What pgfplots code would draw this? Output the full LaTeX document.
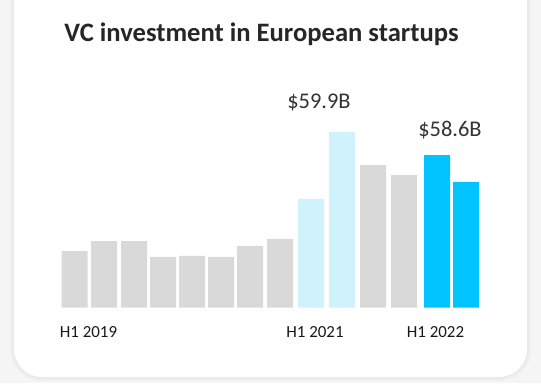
\documentclass[border=0pt]{standalone}
\usepackage{pgfplots}
\pgfplotsset{compat=1.18}
\usepackage{fontspec}
\setmainfont{Carlito}
\definecolor{bggray}{HTML}{F5F5F5}
\definecolor{bargray}{HTML}{D9D9D9}
\definecolor{lightblue}{HTML}{D0F2FC}
\definecolor{brightblue}{HTML}{00C3FF}
\definecolor{titlecol}{HTML}{262626}
\definecolor{labcol}{HTML}{333333}
\begin{document}
\begin{tikzpicture}[x=1bp,y=1bp]
\useasboundingbox (0,0) rectangle (541,383);
\clip (0,0) rectangle (541,383);
% background and card
\fill[bggray] (0,0) rectangle (541,383);
\fill[black,opacity=0.025,rounded corners=32bp] (10,2) rectangle (531,420);
\fill[black,opacity=0.025,rounded corners=31bp] (12,4) rectangle (529,420);
\fill[white,rounded corners=28bp] (14,6) rectangle (527,420);
\node[font=\fontsize{26.7}{30}\selectfont\bfseries,text=titlecol] at (261.5,349) {VC investment in European startups};
\begin{axis}[
  at={(45bp,75.3bp)}, anchor=origin,
  scale only axis, width=440bp, height=190bp,
  xmin=45, xmax=485, ymin=0, ymax=40,
  axis lines=none,
  ybar, bar width=26bp, bar shift=0pt,
  clip=false,
]
\addplot[fill=bargray, draw=none] coordinates {
 (74.7,11.9) (104,14.0) (134,14.0) (163,10.7) (192,10.9) (221,10.7) (250,13.0) (280,14.5)
 (373,30.0) (404,27.9)};
\addplot[fill=lightblue, draw=none] coordinates {(311,22.9) (342,37.0)};
\addplot[fill=brightblue, draw=none] coordinates {(437,32.1) (466,26.5)};
\node[font=\fontsize{22.5}{24}\selectfont,text=labcol] at (axis cs:319,43.2) {\$59.9B};
\node[font=\fontsize{22.5}{24}\selectfont,text=labcol] at (axis cs:450,37.3) {\$58.6B};
\node[font=\fontsize{17}{18}\selectfont,text=black!90] at (axis cs:88.5,-5.2) {H1 2019};
\node[font=\fontsize{17}{18}\selectfont,text=black!90] at (axis cs:315,-5.2) {H1 2021};
\node[font=\fontsize{17}{18}\selectfont,text=black!90] at (axis cs:435.5,-5.2) {H1 2022};
\end{axis}
\end{tikzpicture}
\end{document}
